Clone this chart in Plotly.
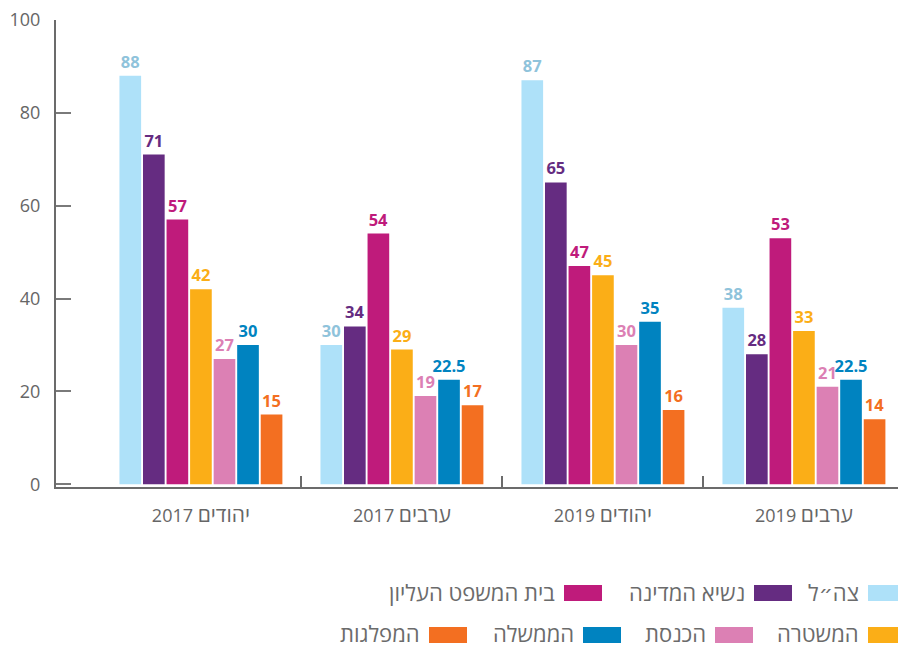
import plotly.graph_objects as go

categories = ["יהודים 2017", "ערבים 2017", "יהודים 2019", "ערבים 2019"]
series_names = ["צה״ל", "נשיא המדינה", "בית המשפט העליון", "המשטרה", "הכנסת", "הממשלה", "המפלגות"]
idf = [88, 30, 87, 38]
president = [71, 34, 65, 28]
supreme_court = [57, 54, 47, 53]
police = [42, 29, 45, 33]
knesset = [27, 19, 30, 21]
government = [30, 22.5, 35, 22.5]
parties = [15, 17, 16, 14]
series_values = [idf, president, supreme_court, police, knesset, government, parties]
y_ticks = [0, 20, 40, 60, 80, 100]

bar_colors = ["#aee1f9", "#652c81", "#bf1b7b", "#fbae17", "#dc80b4", "#0083c0", "#f36f21"]
label_colors = ["#8fc3db", "#652c81", "#bf1b7b", "#fbae17", "#dc80b4", "#0083c0", "#f36f21"]

FONT = "Open Sans, DejaVu Sans, sans-serif"


def cat_label(c):
    word, year = c.rsplit(" ", 1)
    return f"<span style='font-size:21px'>{word}</span> {year}"


fig = go.Figure()
for name, vals, c, lc in zip(series_names, series_values, bar_colors, label_colors):
    fig.add_trace(go.Bar(
        x=categories, y=vals, name=name,
        marker=dict(color=c, line=dict(width=0)),
        text=[f"{v:g}" for v in vals], textposition="outside",
        textfont=dict(family=FONT, size=16.5, color=lc, weight="bold"),
        constraintext="none", cliponaxis=False, showlegend=False,
    ))

# boundary ticks axis
fig.add_trace(go.Scatter(x=[0.5, 1.5, 2.5], y=[0, 0, 0], xaxis="x2", mode="markers",
                         marker=dict(opacity=0), hoverinfo="skip", showlegend=False))

L, R, T, B = 56, 0, 20, 158
W, H = 898, 645
pw = W - L - R
ph = H - T - B

def px(x):
    return (x - L) / pw

def py(y):
    return (H - B - y) / ph

xr = [-0.721, 3.468]
fig.update_layout(
    width=W, height=H,
    margin=dict(l=L, r=R, t=T, b=B, pad=0),
    plot_bgcolor="white", paper_bgcolor="white",
    barmode="group", bargap=0.18, bargroupgap=0.08,
    font=dict(family=FONT, color="#666666"),
    xaxis=dict(type="category", range=xr, showline=True, linecolor="#6b6b6b", linewidth=2,
               ticks="", showgrid=False, zeroline=False,
               tickvals=categories, ticktext=[cat_label(c) for c in categories],
               tickfont=dict(size=18, color="#666666"), ticklabelstandoff=11),
    xaxis2=dict(overlaying="x", range=xr, showline=False, showgrid=False, zeroline=False,
                ticks="inside", ticklen=11, tickwidth=1.5, tickcolor="#6b6b6b",
                tickvals=[0.5, 1.5, 2.5], showticklabels=False, side="bottom"),
    yaxis=dict(range=[-0.6, 100], tickvals=y_ticks, showline=True, linecolor="#6b6b6b", linewidth=2,
               ticks="inside", ticklen=15, tickwidth=1.5, tickcolor="#7a7a7a",
               showgrid=False, zeroline=False,
               tickfont=dict(size=18, color="#666666"), ticklabelstandoff=10),
)

# manual RTL legend
legend_items = [
    # (series index, swatch left px, row)
    (0, 868, 0), (1, 754, 0), (2, 564, 0),
    (3, 868, 1), (4, 715, 1), (5, 583, 1), (6, 429, 1),
]
rows_y = [(585, 601), (627, 643)]
text_shift = [1, 2]
for idx, left, row in legend_items:
    y0, y1 = rows_y[row]
    fig.add_shape(type="rect", xref="paper", yref="paper",
                  x0=px(left), x1=px(left + 38), y0=py(y1), y1=py(y0),
                  fillcolor=bar_colors[idx], line=dict(width=0))
    fig.add_annotation(xref="paper", yref="paper", x=px(left - 7),
                       y=py((y0 + y1) / 2 - text_shift[row]),
                       xanchor="right", yanchor="middle", showarrow=False,
                       text=series_names[idx], font=dict(family=FONT, size=22, color="#6b6b6b"))

fig.write_html("out.html",
               config={"displayModeBar": False},
               post_script="document.body.style.margin='0';document.body.style.overflow='hidden';")
